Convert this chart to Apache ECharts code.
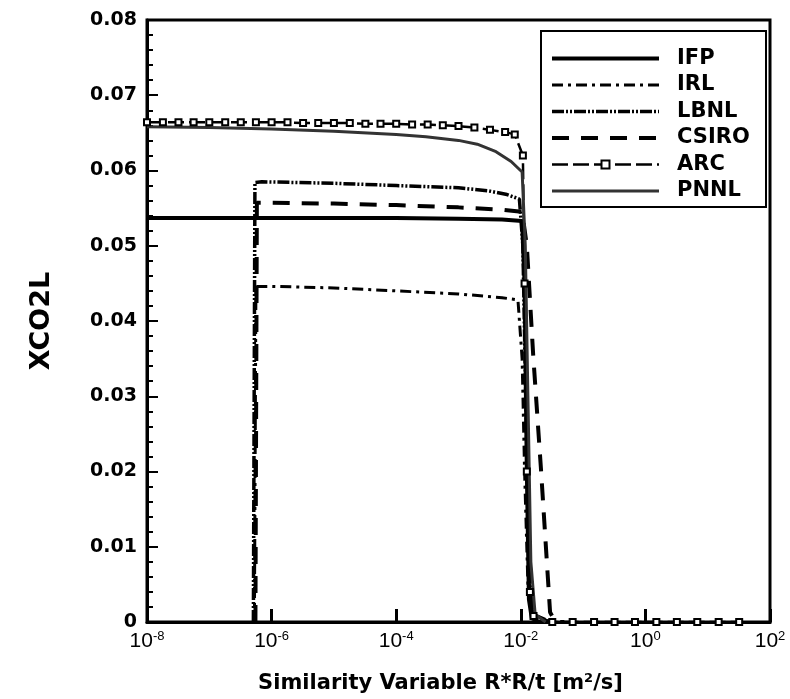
<!DOCTYPE html>
<html>
<head>
<meta charset="utf-8">
<script src="https://cdn.jsdelivr.net/npm/echarts@6/dist/echarts.min.js"></script>
<style>html,body{margin:0;padding:0;background:#fff}#c{width:790px;height:699px}</style>
</head>
<body>
<div id="c"></div>
<script>
// ---- data (x = similarity variable R*R/t [m2/s], y = XCO2L) ----
var seriesNames = ['IFP', 'IRL', 'LBNL', 'CSIRO', 'ARC', 'PNNL'];

var ifpX = [1e-8, 1e-7, 1e-6, 1e-5, 1e-4, 1e-3, 5e-3, 0.0105, 0.0115, 0.0125, 0.0135, 0.015, 0.02, 0.03];
var ifpY = [0.0537, 0.0537, 0.0537, 0.0537, 0.0537, 0.0536, 0.0535, 0.0533, 0.045, 0.02, 0.003, 0.0005, 0, 0];

var irlX = [5.3e-7, 5.6e-7, 1e-6, 1e-5, 1e-4, 1e-3, 5e-3, 9e-3, 0.0105, 0.0115, 0.013, 0.015, 0.03];
var irlY = [0, 0.0446, 0.0446, 0.0444, 0.0440, 0.0436, 0.0431, 0.0428, 0.035, 0.02, 0.005, 0.0005, 0];

var lbnlX = [5.1e-7, 5.4e-7, 7e-7, 1e-5, 1e-4, 1e-3, 3e-3, 6e-3, 9.5e-3, 0.0108, 0.012, 0.0135, 0.016, 0.03];
var lbnlY = [0, 0.0584, 0.0585, 0.0583, 0.0580, 0.0577, 0.0573, 0.0568, 0.0562, 0.05, 0.03, 0.01, 0.001, 0];

var csiroX = [5.5e-7, 5.8e-7, 1e-6, 1e-5, 1e-4, 1e-3, 5e-3, 0.0105, 0.0125, 0.0158, 0.021, 0.0295, 0.036, 0.05];
var csiroY = [0, 0.0557, 0.0557, 0.0556, 0.0554, 0.0551, 0.0548, 0.0545, 0.05, 0.0355, 0.0205, 0.0013, 0, 0];

var arcX = [1e-8, 1.8e-8, 3.2e-8, 5.6e-8, 1e-7, 1.8e-7, 3.2e-7, 5.6e-7, 1e-6, 1.8e-6, 3.2e-6, 5.6e-6,
            1e-5, 1.8e-5, 3.2e-5, 5.6e-5, 1e-4, 1.8e-4, 3.2e-4, 5.6e-4, 1e-3, 1.8e-3, 3.2e-3, 5.6e-3, 8e-3,
            0.0108, 0.0115, 0.0125, 0.014, 0.016, 0.032, 0.068, 0.15, 0.32, 0.68, 1.5, 3.2, 6.8, 15, 32];
var arcY = [0.0664, 0.0664, 0.0664, 0.0664, 0.0664, 0.0664, 0.0664, 0.0664, 0.0664, 0.0664, 0.0663, 0.0663,
            0.0663, 0.0663, 0.0662, 0.0662, 0.0662, 0.0661, 0.0661, 0.0660, 0.0659, 0.0657, 0.0654, 0.0651, 0.0648,
            0.062, 0.045, 0.02, 0.004, 0.0008, 0, 0, 0, 0, 0, 0, 0, 0, 0, 0];

var pnnlX = [1e-8, 1e-7, 1e-6, 1e-5, 1e-4, 3e-4, 1e-3, 2e-3, 4e-3, 7e-3, 0.0105, 0.0118, 0.013, 0.0145, 0.017, 0.025];
var pnnlY = [0.0658, 0.0657, 0.0655, 0.0652, 0.0648, 0.0645, 0.0640, 0.0635, 0.0625, 0.0612, 0.0598, 0.05, 0.03, 0.008, 0.001, 0];

var xTicks = [1e-8, 1e-6, 1e-4, 1e-2, 1, 100];
var yTicks = [0, 0.01, 0.02, 0.03, 0.04, 0.05, 0.06, 0.07, 0.08];

function pairs(xs, ys) { return xs.map(function (x, i) { return [x, ys[i]]; }); }

var chart = echarts.init(document.getElementById('c'), null, {renderer: 'canvas'});

var styles = {
  IFP:   {color: '#000', width: 4, type: 'solid'},
  IRL:   {color: '#000', width: 3, type: [11, 5, 3, 5]},
  LBNL:  {color: '#000', width: 3.5, type: [12, 2, 2, 2, 2, 2]},
  CSIRO: {color: '#000', width: 4, type: [17, 12]},
  ARC:   {color: '#000', width: 2.5, type: [16, 5]},
  PNNL:  {color: '#333', width: 3, type: 'solid'}
};

function lineSeries(name, xs, ys, extra) {
  var st = styles[name];
  var s = {
    name: name, type: 'line', data: pairs(xs, ys),
    showSymbol: false, symbol: 'none', smooth: false,
    lineStyle: st, itemStyle: {color: st.color},
    animation: false, silent: true, z: 2
  };
  if (extra) { for (var k in extra) s[k] = extra[k]; }
  return s;
}

var legendData = seriesNames.map(function (n) {
  var st = styles[n];
  return {
    name: n,
    lineStyle: {width: st.width, type: st.type, color: st.color},
    itemStyle: n === 'ARC' ? {color: '#000', borderColor: '#000'} : {opacity: 0}
  };
});

var option = {
  backgroundColor: '#fff',
  animation: false,
  grid: {left: 147, right: 20, top: 20, bottom: 75, show: true, borderColor: '#000', borderWidth: 3, backgroundColor: 'transparent'},
  xAxis: {
    type: 'log', logBase: 10, min: xTicks[0], max: xTicks[xTicks.length - 1],
    axisLine: {lineStyle: {color: '#000', width: 3}},
    axisTick: {inside: true, length: 13, customValues: xTicks, lineStyle: {color: '#000', width: 3}},
    splitLine: {show: false},
    axisLabel: {
      margin: 8, color: '#000', fontFamily: 'Liberation Sans', fontSize: 21, customValues: xTicks,
      formatter: function (v) { var e = Math.round(Math.log10(v)); return '10{sup|' + e + '}'; },
      rich: {sup: {fontSize: 13, fontFamily: 'Liberation Sans', color: '#000', verticalAlign: 'bottom', padding: [0, 0, 10, 0]}}
    },
    name: 'Similarity Variable R*R/t [m{s|2}/s]', nameLocation: 'middle', nameGap: 50,
    nameTextStyle: {fontFamily: 'DejaVu Sans', fontWeight: 'bold', fontSize: 21, color: '#000', padding: [0, 36, 0, 0],
      rich: {s: {fontFamily: 'DejaVu Sans', fontWeight: 'bold', fontSize: 13, color: '#000', verticalAlign: 'bottom', padding: [0, 0, 10, 0]}}}
  },
  yAxis: {
    type: 'value', min: yTicks[0], max: yTicks[yTicks.length - 1], interval: 0.01,
    axisLine: {lineStyle: {color: '#000', width: 3}},
    axisTick: {inside: true, length: 11, lineStyle: {color: '#000', width: 2}},
    minorTick: {show: true, splitNumber: 5, length: 6, lineStyle: {color: '#000', width: 2}},
    splitLine: {show: false},
    axisLabel: {
      margin: 10, color: '#000', fontFamily: 'DejaVu Sans', fontWeight: 'bold', fontSize: 19,
      formatter: function (v) { return v === 0 ? '0' : v.toFixed(2); }
    },
    name: 'XCO2L', nameLocation: 'middle', nameGap: 92, nameRotate: 90,
    nameTextStyle: {fontFamily: 'DejaVu Sans', fontWeight: 'bold', fontSize: 27, color: '#000'}
  },
  legend: {
    orient: 'vertical', left: 550, top: 48, padding: 0,
    itemWidth: 107, itemHeight: 10, itemGap: 5.5, selectedMode: false,
    data: legendData,
    textStyle: {fontFamily: 'DejaVu Sans', fontWeight: 'bold', fontSize: 21, color: '#000', padding: [0, 0, 0, 13]},
    z: 5
  },
  graphic: [{
    type: 'rect', z: 3, zlevel: 0,
    shape: {x: 541, y: 31, width: 225, height: 176},
    style: {fill: '#fff', stroke: '#000', lineWidth: 2}
  }],
  series: [
    lineSeries('IFP', ifpX, ifpY),
    lineSeries('IRL', irlX, irlY),
    lineSeries('LBNL', lbnlX, lbnlY),
    lineSeries('CSIRO', csiroX, csiroY),
    lineSeries('ARC', arcX, arcY,
      {showSymbol: true, symbol: 'emptyRect', symbolSize: 6, itemStyle: {color: '#000', borderColor: '#000', borderWidth: 1.5}}),
    lineSeries('PNNL', pnnlX, pnnlY)
  ]
};
chart.setOption(option);
</script>
</body>
</html>
